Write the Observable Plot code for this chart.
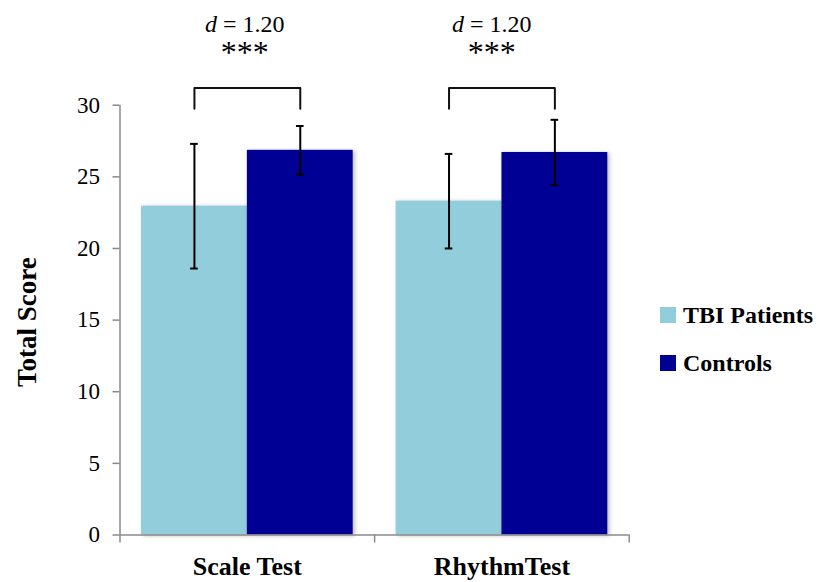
<!DOCTYPE html>
<html><head><meta charset="utf-8">
<script src="https://cdn.jsdelivr.net/npm/d3@7"></script>
<script src="https://cdn.jsdelivr.net/npm/@observablehq/plot@0.6"></script>
<style>
body{margin:0;background:#fff;}
#wrap{position:relative;width:824px;height:582px;overflow:hidden;font-family:"Liberation Serif",serif;}
#legend{position:absolute;left:660px;top:291px;}
.item{display:flex;align-items:center;height:48px;font-weight:bold;font-size:24px;color:#000;white-space:nowrap;}
.sw{width:16px;height:16px;margin-right:7px;flex:none;}
svg g[aria-label="rect"] rect{filter:drop-shadow(2px 1px 2px rgba(0,0,0,0.28));}
</style></head><body><div id="wrap"></div>
<script>
// ---- data ----
const tests = ["Scale Test", "RhythmTest"];
const groups = ["TBI Patients", "Controls"];
const tbiMeans = [22.95, 23.3];
const tbiErrors = [4.35, 3.3];
const controlMeans = [26.85, 26.7];
const controlErrors = [1.7, 2.28];
const effectLabels = ["d = 1.20", "d = 1.20"];
const sigLabels = ["***", "***"];
const annotationX = [0.49, 0.46];      // annotation centre within each test slot
const bracketLevels = [29.75, 31.2];   // bracket foot, bracket top (score units)
const effectLevel = 35.1;
const sigLevel = 32.95;
const yTicks = [0, 5, 10, 15, 20, 25, 30];
const colors = ["#92CDDC", "#000094"];

// ---- layout within each test slot (fractions of a slot) ----
const slotPad = 0.0845, barW = 0.4157, capHalf = 0.015;

const rows = [];
tests.forEach((t, i) => {
  rows.push({test: t, i, g: 0, group: groups[0], mean: tbiMeans[i], err: tbiErrors[i]});
  rows.push({test: t, i, g: 1, group: groups[1], mean: controlMeans[i], err: controlErrors[i]});
});
rows.forEach(d => {
  d.x1 = d.i + slotPad + d.g * barW;
  d.x2 = d.x1 + barW;
  d.cx = (d.x1 + d.x2) / 2;
  d.lo = d.mean - d.err;
  d.hi = d.mean + d.err;
});
const brackets = [];
tests.forEach((t, i) => {
  const a = rows.find(r => r.i === i && r.g === 0).cx, b = rows.find(r => r.i === i && r.g === 1).cx;
  brackets.push({test: t, x: a, y: bracketLevels[0]}, {test: t, x: a, y: bracketLevels[1]},
                {test: t, x: b, y: bracketLevels[1]}, {test: t, x: b, y: bracketLevels[0]});
});
const annos = tests.map((t, i) => ({x: i + annotationX[i], eff: effectLabels[i], sig: sigLabels[i]}));

const axisGray = "#8a8a8a";
const chart = Plot.plot({
  width: 824, height: 582,
  marginLeft: 119.5, marginRight: 195.3, marginTop: 104.7, marginBottom: 47.5,
  style: {fontFamily: "Liberation Serif, serif", background: "white", overflow: "visible"},
  x: {domain: [0, tests.length]},
  y: {domain: [0, 30]},
  color: {domain: groups, range: colors},
  marks: [
    Plot.rectY(rows, {x1: "x1", x2: "x2", y1: 0, y2: "mean", fill: "group"}),
    Plot.ruleX(rows, {x: "cx", y1: "lo", y2: "hi", stroke: "black", strokeWidth: 2}),
    Plot.ruleY(rows, {y: "lo", x1: d => d.cx - capHalf, x2: d => d.cx + capHalf, stroke: "black", strokeWidth: 2}),
    Plot.ruleY(rows, {y: "hi", x1: d => d.cx - capHalf, x2: d => d.cx + capHalf, stroke: "black", strokeWidth: 2}),
    Plot.ruleX([0], {stroke: axisGray, strokeWidth: 1.5}),
    Plot.ruleY([0], {stroke: axisGray, strokeWidth: 1.5}),
    Plot.axisY({ticks: yTicks, tickSize: 7, tickPadding: 13, fontSize: 23, stroke: axisGray, strokeWidth: 1.5, fill: "black", label: null}),
    Plot.axisX({ticks: d3.range(tests.length + 1), tickSize: 8, tickFormat: () => "", stroke: axisGray, strokeWidth: 1.5, label: null}),
    Plot.axisX({ticks: tests.map((t, i) => i + 0.5), tickSize: 0, tickPadding: 22, tickFormat: d => tests[Math.floor(d)],
      fontSize: 26, fontWeight: "bold", fill: "black", label: null}),
    Plot.line(brackets, {x: "x", y: "y", z: "test", stroke: "#111", strokeWidth: 2, strokeLinejoin: "round"}),
    Plot.text(annos, {x: "x", y: effectLevel, text: "eff", fontSize: 24, lineAnchor: "bottom", fill: "black"}),
    Plot.text(annos, {x: "x", y: sigLevel, text: "sig", fontSize: 32, lineAnchor: "bottom", fill: "black"}),
    Plot.text(["Total Score"], {frameAnchor: "left", textAnchor: "middle", rotate: -90, dx: -93, dy: 2, fontSize: 27, fontWeight: "bold", fill: "black"})
  ]
});

// italic "d" in the effect-size labels
d3.select(chart).selectAll("text").each(function() {
  const s = this.textContent;
  if (this.childElementCount === 0 && /^d = /.test(s)) {
    this.textContent = "";
    const sel = d3.select(this);
    sel.append("tspan").attr("font-style", "italic").text("d");
    sel.append("tspan").text(s.slice(1));
  }
});

const wrap = document.getElementById("wrap");
wrap.appendChild(chart);
const legend = document.createElement("div");
legend.id = "legend";
groups.forEach((g, i) => {
  const item = document.createElement("div");
  item.className = "item";
  const sw = document.createElement("span");
  sw.className = "sw";
  sw.style.background = colors[i];
  item.appendChild(sw);
  item.appendChild(document.createTextNode(g));
  legend.appendChild(item);
});
wrap.appendChild(legend);
</script>
</body></html>
